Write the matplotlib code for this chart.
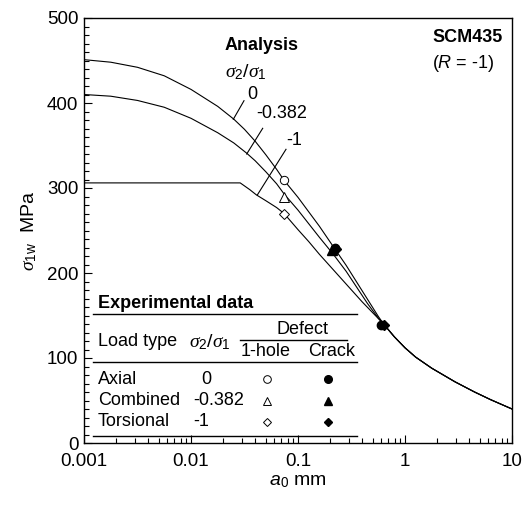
import matplotlib
matplotlib.use("Agg")
import matplotlib.pyplot as plt
import numpy as np
from matplotlib.ticker import FixedLocator, NullFormatter, LogLocator

plt.rcParams['font.family'] = ['Liberation Sans', 'DejaVu Sans']
plt.rcParams['mathtext.fontset'] = 'custom'
plt.rcParams['mathtext.rm'] = 'Liberation Sans'
plt.rcParams['mathtext.it'] = 'Liberation Serif:italic'
plt.rcParams['mathtext.sf'] = 'Liberation Sans:italic'
plt.rcParams['mathtext.bf'] = 'Liberation Sans:bold'

# ---------------- data ----------------
# analysis curves, abscissa given as log10(a0 / mm)
loga_r0 = [-3.0, -2.75, -2.5, -2.25, -2.0, -1.75, -1.6, -1.5, -1.4, -1.3, -1.2, -1.13, -1.0, -0.9,
           -0.8, -0.67, -0.55, -0.45, -0.35, -0.25, -0.2, -0.1, 0.0, 0.1, 0.25, 0.467, 0.65, 0.8, 1.0]
s_r0 = [451, 448, 442, 432, 416, 396, 381, 369, 355, 339, 322, 309, 289, 272,
        255, 231, 209, 189, 169, 149, 140, 125, 112, 101, 88, 72, 60, 51, 40]

loga_r382 = [-3.0, -2.75, -2.5, -2.25, -2.0, -1.75, -1.6, -1.48, -1.4, -1.3, -1.2, -1.13, -1.0, -0.9,
             -0.8, -0.67, -0.55, -0.45, -0.35, -0.25, -0.2, -0.1, 0.0, 0.1, 0.25, 0.467, 0.65, 0.8, 1.0]
s_r382 = [410, 408, 403, 395, 382, 365, 353, 341, 332, 319, 305, 293, 274, 258,
          242, 222, 202, 183, 164, 147, 140, 125, 112, 101, 88, 72, 60, 51, 40]

loga_r1 = [-3.0, -1.54, -1.45, -1.39, -1.3, -1.2, -1.13, -1.0, -0.9, -0.8, -0.7, -0.6, -0.5,
           -0.4, -0.3, -0.2, -0.1, 0.0, 0.1, 0.25, 0.467, 0.65, 0.8, 1.0]
s_r1 = [306, 306, 298, 292, 285, 277, 270, 251, 237, 222, 208, 194, 180,
        166, 153, 140, 125, 112, 101, 88, 72, 60, 51, 40]

# experimental data: (a0 mm, sigma MPa)
hole_a = [0.074, 0.074, 0.074]
hole_s = [309, 290, 270]
crack_a_circle = [0.22, 0.60]
crack_s_circle = [229, 139]
crack_a_tri = [0.21]
crack_s_tri = [227]
crack_a_dia = [0.225, 0.64]
crack_s_dia = [228, 139]

ratio_labels = ['0', '-0.382', '-1']
load_types = ['Axial', 'Combined', 'Torsional']

x_ticks = [0.001, 0.01, 0.1, 1, 10]
x_ticklabels = ['0.001', '0.01', '0.1', '1', '10']
y_ticks = [0, 100, 200, 300, 400, 500]

# ---------------- figure ----------------
W, H = 529, 508
fig = plt.figure(figsize=(W / 100, H / 100), dpi=100)
L, R, T, B = 84, 512, 18, 443
ax = fig.add_axes([L / W, 1 - B / H, (R - L) / W, (B - T) / H])

def F(px, py):
    return (px / W, 1 - py / H)

lw = 0.8
for la, s in [(loga_r0, s_r0), (loga_r382, s_r382), (loga_r1, s_r1)]:
    ax.plot(10.0 ** np.asarray(la), s, color='black', lw=lw)

ax.plot(hole_a[0], hole_s[0], 'o', mfc='white', mec='black', mew=0.7, ms=6)
ax.plot(hole_a[1], hole_s[1], '^', mfc='white', mec='black', mew=0.7, ms=6.5)
ax.plot(hole_a[2], hole_s[2], 'D', mfc='white', mec='black', mew=0.7, ms=4.8)
ax.plot(crack_a_circle, crack_s_circle, 'o', color='black', ms=6)
ax.plot(crack_a_tri, crack_s_tri, '^', color='black', ms=6.5)
ax.plot(crack_a_dia, crack_s_dia, 'D', color='black', ms=4.8)

ax.set_xscale('log')
ax.set_xlim(0.001, 10)
ax.set_ylim(0, 500)
ax.set_xticks(x_ticks)
ax.set_xticklabels(x_ticklabels)
ax.xaxis.set_minor_locator(LogLocator(base=10, subs=np.arange(2, 10)))
ax.xaxis.set_minor_formatter(NullFormatter())
ax.set_yticks(y_ticks)
ax.yaxis.set_minor_locator(FixedLocator(np.arange(0, 501, 10)))
ax.tick_params(which='both', direction='in', labelsize=13.5, width=0.8)
ax.tick_params(which='major', length=6)
ax.tick_params(which='minor', length=3.5)
for s in ax.spines.values():
    s.set_linewidth(1.0)
ax.tick_params(axis='x', pad=7.5)
ax.tick_params(axis='y', pad=4)

ax.set_xlabel(r'$\mathsf{a}_0$ mm', fontsize=14, labelpad=2)
ax.set_ylabel(r'$\sigma_{\mathrm{1w}}$  MPa', fontsize=14, labelpad=6)

# ---------------- annotations ----------------
fs = 13
fig.text(*F(262, 45), 'Analysis', fontsize=fs, fontweight='bold', ha='center', va='center')
fig.text(*F(246, 72), r'$\sigma_2/\sigma_1$', fontsize=fs + 1, ha='center', va='center')

leaders = [((244, 100.7), (233.3, 119.3)), ((262.7, 128.3), (246.7, 154)), ((286, 149.3), (257.3, 195))]
text_pos = [(247, 103), (256, 122), (286, 149)]
for (p1, p2), tp, lab in zip(leaders, text_pos, ratio_labels):
    fig.add_artist(plt.Line2D([p1[0] / W, p2[0] / W], [1 - p1[1] / H, 1 - p2[1] / H],
                              color='black', lw=0.8))
    fig.text(*F(*tp), lab, fontsize=fs, ha='left', va='bottom')

fig.text(*F(432, 38), 'SCM435', fontsize=fs, fontweight='bold', ha='left', va='center')
fig.text(*F(432, 63), r'($\mathsf{R}$ = -1)', fontsize=fs, ha='left', va='center')

# ---------------- experimental data table ----------------
fig.text(*F(98, 303), 'Experimental data', fontsize=fs, fontweight='bold', ha='left', va='center')
for yline, x0, x1 in [(314.3, 93, 357), (361.7, 93, 357), (436, 93, 357), (340, 240, 347)]:
    fig.add_artist(plt.Line2D([x0 / W, x1 / W], [1 - yline / H, 1 - yline / H], color='black', lw=1.0))
fig.text(*F(303, 329), 'Defect', fontsize=fs, ha='center', va='center')
fig.text(*F(98, 342), 'Load type', fontsize=fs, ha='left', va='center')
fig.text(*F(210, 342), r'$\sigma_2/\sigma_1$', fontsize=fs + 1, ha='center', va='center')
fig.text(*F(266, 351), '1-hole', fontsize=fs, ha='center', va='center')
fig.text(*F(332, 351), 'Crack', fontsize=fs, ha='center', va='center')

rows_y = [379, 400.7, 421.7]
for yy, lt in zip(rows_y, load_types):
    fig.text(*F(98, yy), lt, fontsize=fs, ha='left', va='center')
fig.text(*F(206.5, rows_y[0]), ratio_labels[0], fontsize=fs, ha='center', va='center')
fig.text(*F(193, rows_y[1]), ratio_labels[1], fontsize=fs, ha='left', va='center')
fig.text(*F(193, rows_y[2]), ratio_labels[2], fontsize=fs, ha='left', va='center')

mk = ['o', '^', 'D']
msz = [5.5, 5.5, 4.0]
for yy, m, sz in zip(rows_y, mk, msz):
    fig.add_artist(plt.Line2D([267 / W], [1 - yy / H], marker=m, mfc='white', mec='black',
                              mew=0.7, ms=sz, ls='none'))
    fig.add_artist(plt.Line2D([328 / W], [1 - yy / H], marker=m, mfc='black', mec='black',
                              ms=sz, ls='none'))

fig.savefig('out.png', dpi=100)
